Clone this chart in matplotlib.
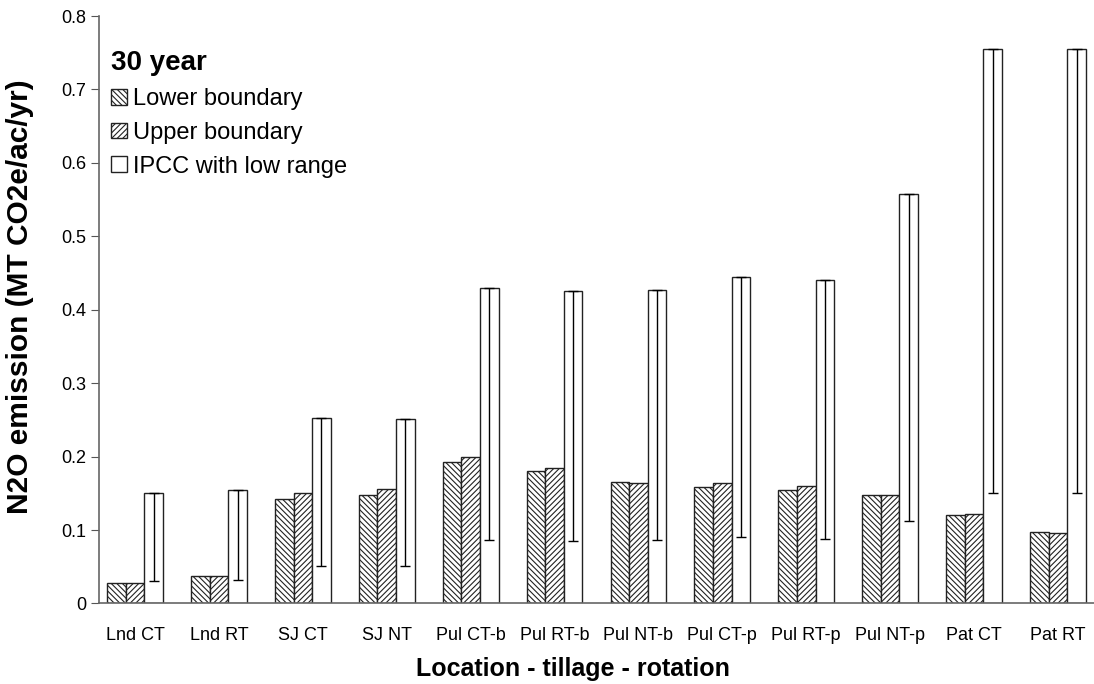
import numpy as np
import matplotlib
matplotlib.use("Agg")
import matplotlib.pyplot as plt

plt.rcParams['font.family'] = ['Liberation Sans', 'DejaVu Sans']
plt.rcParams['hatch.linewidth'] = 0.8

# dados
categorias = ["Lnd CT", "Lnd RT", "SJ CT", "SJ NT", "Pul CT-b", "Pul RT-b",
              "Pul NT-b", "Pul CT-p", "Pul RT-p", "Pul NT-p", "Pat CT", "Pat RT"]
lower_boundary = [0.028, 0.038, 0.142, 0.148, 0.192, 0.180,
                  0.166, 0.158, 0.154, 0.148, 0.120, 0.098]
upper_boundary = [0.028, 0.038, 0.150, 0.156, 0.199, 0.184,
                  0.164, 0.164, 0.160, 0.148, 0.122, 0.096]
ipcc = [0.150, 0.154, 0.252, 0.251, 0.430, 0.426,
        0.427, 0.445, 0.441, 0.558, 0.755, 0.755]
ipcc_low = [0.030, 0.032, 0.051, 0.051, 0.087, 0.085,
            0.087, 0.090, 0.088, 0.112, 0.151, 0.151]


def monta_grafico():
    fig = plt.figure(figsize=(10.94, 6.84), dpi=100)
    ax = fig.add_axes([0.0905, 0.1177, 0.9095, 0.8589])

    x = np.arange(len(categorias))
    w = 0.222
    borda = dict(edgecolor="#222222", linewidth=1.0, facecolor="white")

    ax.bar(x - w, lower_boundary, w, hatch="\\\\\\\\\\\\", label="Lower boundary", **borda)
    ax.bar(x, upper_boundary, w, hatch="//////", label="Upper boundary", **borda)
    ax.bar(x + w, ipcc, w, label="IPCC with low range", **borda)

    # barra de erro so para baixo (faixa baixa do IPCC)
    err_baixo = np.array(ipcc) - np.array(ipcc_low)
    ax.errorbar(x + w, ipcc, yerr=[err_baixo, np.zeros(len(ipcc))], fmt="none",
                ecolor="black", elinewidth=1.0, capsize=3.5, capthick=1.0)

    ax.set_xlim(-0.43, 11.43)
    ax.set_ylim(0, 0.8)
    ax.set_yticks(np.arange(0, 0.81, 0.1))
    ax.set_yticklabels(["0"] + ["%.1f" % v for v in np.arange(0.1, 0.81, 0.1)], fontsize=13)
    ax.set_xticks(x)
    ax.set_xticklabels(categorias, fontsize=13)
    ax.tick_params(axis="x", length=0, pad=17)
    ax.tick_params(axis="y", length=6, direction="out", color="#555555", pad=3)

    for lado in ["top", "right"]:
        ax.spines[lado].set_visible(False)
    for lado in ["left", "bottom"]:
        ax.spines[lado].set_color("#666666")
        ax.spines[lado].set_linewidth(1.2)

    ax.set_ylabel("N2O emission (MT CO2e/ac/yr)", fontsize=21.5, fontweight="bold")
    ax.yaxis.set_label_coords(-0.065, 0.523)
    ax.set_xlabel("Location - tillage - rotation", fontsize=18, fontweight="bold")
    ax.xaxis.set_label_coords(0.476, -0.091)

    ax.legend(loc="upper left", bbox_to_anchor=(-0.009, 0.978), frameon=False,
              fontsize=17, title="30 year", alignment="left",
              title_fontproperties={"size": 20, "weight": "bold"},
              handlelength=0.65, handleheight=0.65, handletextpad=0.25,
              labelspacing=0.5, borderaxespad=0.5)

    fig.savefig("out.png", dpi=100)


if __name__ == "__main__":
    monta_grafico()
